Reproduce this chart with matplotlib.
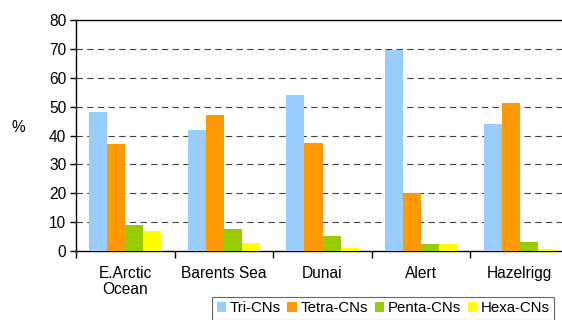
import matplotlib
matplotlib.use('Agg')
from matplotlib import pyplot as plt
import numpy as np

# Sites and congener group shares (%)
sites = ['E.Arctic\nOcean', 'Barents Sea', 'Dunai', 'Alert', 'Hazelrigg']
groups = ['Tri-CNs', 'Tetra-CNs', 'Penta-CNs', 'Hexa-CNs']
tri = [48, 42, 54, 69.5, 44]
tetra = [37, 47, 37.4, 20, 51.2]
penta = [9, 7.6, 5.2, 2.5, 3.2]
hexa = [6.9, 2.9, 1.2, 2.5, 0.6]
colors = ['#99CCFF', '#FF9900', '#99CC00', '#FFFF00']

plt.rcParams['font.family'] = 'Liberation Sans'
fs = 11.2

fig = plt.figure(figsize=(5.62, 3.2), dpi=100)
ax = fig.add_axes([76 / 562, 1 - 251 / 320, 5 * 98.6 / 562, 231 / 320])

x = np.arange(len(sites))
w = 0.183
for i, vals in enumerate([tri, tetra, penta, hexa]):
    ax.bar(x + (i - 1.5) * w, vals, w, color=colors[i], label=groups[i], zorder=3)

ax.set_xlim(-0.5, len(sites) - 0.5)
ax.set_ylim(0, 80)
ax.set_yticks(range(0, 81, 10))
ax.tick_params(axis='y', labelsize=fs, length=4, width=1, direction='out', pad=3)

# category labels centred, ticks on the boundaries
ax.set_xticks(x)
ax.set_xticklabels(sites, fontsize=fs, linespacing=1.05)
ax.tick_params(axis='x', which='major', length=0, pad=11)
ax.set_xticks(np.arange(-0.5, len(sites)), minor=True)
ax.tick_params(axis='x', which='minor', length=5, width=1, direction='out')

for y in range(10, 80, 10):
    ax.axhline(y, color='#404040', lw=0.8, ls=(0, (5.8, 3.8)), zorder=1)

for s in ['left', 'bottom', 'top']:
    ax.spines[s].set_color('black')
    ax.spines[s].set_linewidth(1)
ax.spines['right'].set_visible(False)

fig.text(12 / 562, 1 - 128 / 320, '%', fontsize=fs, va='center', ha='left')

leg = fig.legend(loc='upper left', bbox_to_anchor=(212 / 562, 1 - 297 / 320),
                 ncol=4, fontsize=10.8, frameon=True, fancybox=False,
                 handlelength=0.62, handleheight=0.62, handletextpad=0.25,
                 columnspacing=0.45, borderpad=0.3, borderaxespad=0)
leg.get_frame().set_edgecolor('#404040')
leg.get_frame().set_linewidth(0.8)

fig.savefig('out.png', dpi=100)
